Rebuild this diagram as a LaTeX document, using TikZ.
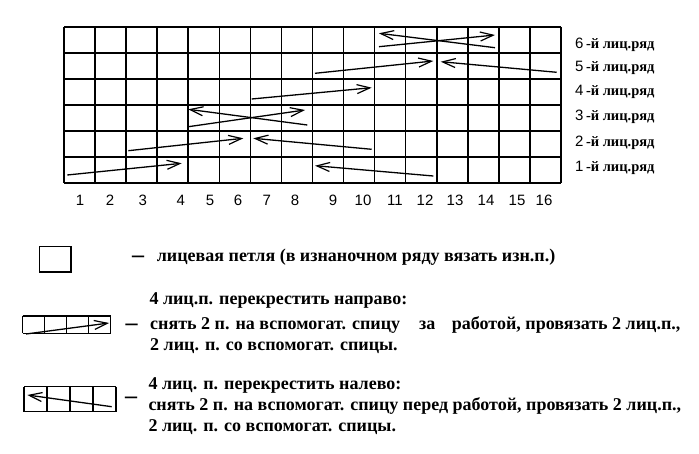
\documentclass[tikz,border=0pt]{standalone}
\usepackage{fontspec}
\setmainfont{Liberation Serif}
\newfontfamily\arialf{Liberation Sans}
\usetikzlibrary{arrows.meta}
\begin{document}
\begin{tikzpicture}[x=1pt,y=-1pt,
  gridline/.style={line width=1.6pt},
  knit/.style={line width=1.3pt,-{Straight Barb[length=13pt,width=9pt,line width=1.2pt]}},
  numlbl/.style={font=\arialf\fontsize{15}{15}\selectfont, inner sep=0},
  rowlbl/.style={anchor=west,inner sep=0},
  legtxt/.style={anchor=west,inner sep=0,font=\bfseries\fontsize{18}{18}\selectfont},
  dashtxt/.style={anchor=base,inner sep=0,font=\bfseries\fontsize{24}{24}\selectfont},
]
\useasboundingbox (0,0) rectangle (699,454);
% chart grid
\foreach \i in {0,...,16} \draw[gridline] ({64+\i*31.0625},27) -- ({64+\i*31.0625},183);
\foreach \j in {0,...,6} \draw[gridline] (64,{27+\j*26}) -- (561,{27+\j*26});
% column numbers
\foreach \n/\x in {1/80,2/110,3/142.7,4/180.7,5/210,6/238,7/266.7,8/295,9/333,10/363,11/395,12/425,13/455,14/486,15/517,16/544}
  \node[numlbl] (c\n) at (\x,200) {\n};
% row labels
\foreach \n/\y in {6/45,5/68,4/92,3/117,2/143,1/168}
  \node[rowlbl] (r\n) at (575,\y) {{\arialf\fontsize{15}{15}\selectfont \n} {\bfseries\fontsize{14.5}{14.5}\selectfont -й лиц.ряд}};
% arrows (cable crossings)
\coordinate (a1s) at (67.3,175);   \coordinate (a1e) at (181.7,163.3);
\coordinate (b1s) at (433.3,176);  \coordinate (b1e) at (315,165.7);
\coordinate (a2s) at (128.3,150.7);\coordinate (a2e) at (243.3,138.3);
\coordinate (b2s) at (371.7,149.3);\coordinate (b2e) at (253.3,138.3);
\coordinate (a3s) at (188.3,126.7);\coordinate (a3e) at (305,110);
\coordinate (b3s) at (307.3,125);  \coordinate (b3e) at (188.3,109.3);
\coordinate (a4s) at (251.7,99);   \coordinate (a4e) at (371.7,87.7);
\coordinate (a5s) at (315,73.3);   \coordinate (a5e) at (433.3,61);
\coordinate (b5s) at (556.7,72.3); \coordinate (b5e) at (440.7,61.7);
\coordinate (a6s) at (379,46.7);   \coordinate (a6e) at (495,35);
\coordinate (b6s) at (495,47.7);   \coordinate (b6e) at (379,33.3);
\foreach \p in {a1,b1,a2,b2,a3,b3,a4,a5,b5,a6,b6} \draw[knit] (\p s) -- (\p e);
% legend 1: plain square
\node[draw,line width=1.6pt,minimum width=31.7pt,minimum height=25.6pt,inner sep=0] (sq) at (55.2,259.5) {};
\node[dashtxt] (d1) at (138,263) {–};
\node[legtxt] (t1) at (156.7,257) {лицевая петля (в изнаночном ряду вязать изн.п.)};
% legend 2: right cross
\foreach \i in {0,...,4} \draw[line width=1.5pt] ({22.7+\i*22},316) -- ({22.7+\i*22},333.3);
\draw[line width=1.5pt] (22.7,316) -- (110.7,316) (22.7,333.3) -- (110.7,333.3);
\coordinate (l2s) at (26,334); \coordinate (l2e) at (109,323);
\draw[knit] (l2s) -- (l2e);
\node[dashtxt] (d2) at (131.5,331) {–};
\node[legtxt] (t2a) at (149.3,300) {4 лиц.п. перекрестить направо:};
\node[legtxt] (t2b) at (150,325) {снять 2 п. на вспомогат. спицу};
\node[legtxt] (t2c) at (419,325) {за};
\node[legtxt] (t2d) at (451.7,325) {работой, провязать 2 лиц.п.,};
\node[legtxt] (t2e) at (150,346) {2 лиц. п. со вспомогат. спицы.};
% legend 3: left cross
\foreach \i in {0,...,4} \draw[line width=1.5pt] ({24+\i*23},386.7) -- ({24+\i*23},411.7);
\draw[line width=1.5pt] (24,386.7) -- (116,386.7) (24,411.7) -- (116,411.7);
\coordinate (l3s) at (111.7,406.7); \coordinate (l3e) at (27.3,395);
\draw[knit] (l3s) -- (l3e);
\node[dashtxt] (d3) at (131,403) {–};
\node[legtxt] (t3a) at (148.3,385) {4 лиц. п. перекрестить налево:};
\node[legtxt] (t3b) at (148.3,406) {снять 2 п. на вспомогат. спицу перед работой, провязать 2 лиц.п.,};
\node[legtxt] (t3c) at (148.3,427) {2 лиц. п. со вспомогат. спицы.};
\end{tikzpicture}
\end{document}
